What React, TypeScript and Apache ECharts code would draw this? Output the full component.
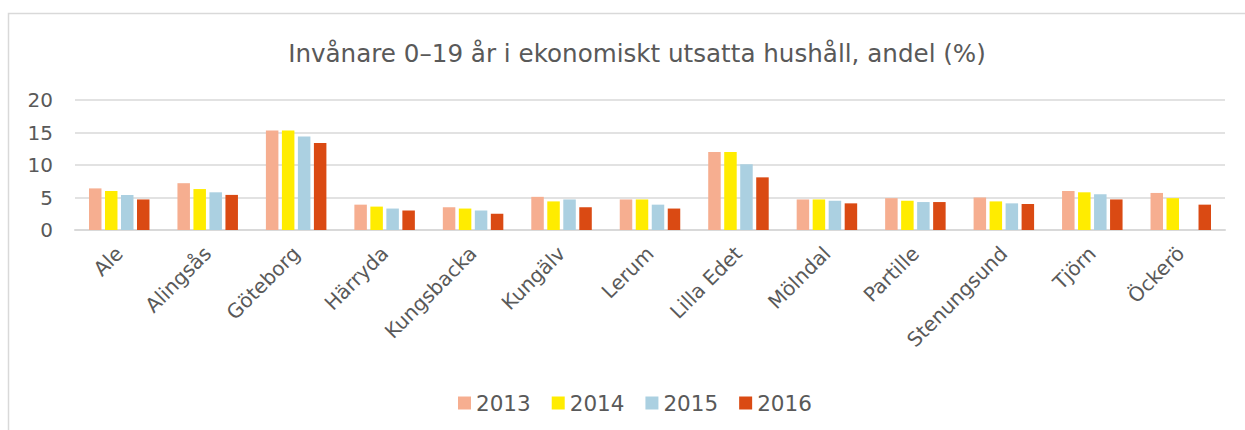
import React, { useEffect, useRef } from "react";
import * as echarts from "echarts";

const categories = ["Ale", "Alingsås", "Göteborg", "Härryda", "Kungsbacka", "Kungälv", "Lerum", "Lilla Edet", "Mölndal", "Partille", "Stenungsund", "Tjörn", "Öckerö"];
const s2013 = [6.4, 7.2, 15.3, 3.9, 3.5, 5.1, 4.7, 12.0, 4.7, 4.9, 5.0, 6.0, 5.7];
const s2014 = [6.0, 6.3, 15.3, 3.6, 3.3, 4.4, 4.7, 12.0, 4.7, 4.5, 4.4, 5.8, 4.9];
const s2015 = [5.4, 5.8, 14.4, 3.3, 3.0, 4.7, 3.9, 10.1, 4.5, 4.3, 4.1, 5.5, null];
const s2016 = [4.7, 5.4, 13.4, 3.0, 2.5, 3.5, 3.3, 8.1, 4.1, 4.3, 4.0, 4.7, 3.9];
const seriesNames = ["2013", "2014", "2015", "2016"];
const colors = ["#F6AE90", "#FFEC00", "#ABD0E1", "#DA4A13"];
const yTicks = { min: 0, max: 20, interval: 5 };
const title = "Invånare 0–19 år i ekonomiskt utsatta hushåll, andel (%)";

const FONT = "DejaVu Sans";

export default function App() {
  const ref = useRef<HTMLDivElement>(null);
  useEffect(() => {
    document.body.style.margin = "0";
    const chart = echarts.init(ref.current!, null, { renderer: "svg" });
    const data = [s2013, s2014, s2015, s2016];
    chart.setOption({
      animation: false,
      backgroundColor: "#ffffff",
      graphic: [
        {
          type: "rect",
          shape: { x: 8.5, y: 13.5, width: 1400, height: 600 },
          style: { fill: "none", stroke: "#d9d9d9", lineWidth: 1.5 },
          silent: true,
        },
      ],
      title: {
        text: title,
        left: 632,
        top: 36,
        textAlign: "center",
        textStyle: { fontFamily: FONT, fontSize: 24.6, fontWeight: "normal", color: "#595959" },
      },
      legend: {
        data: seriesNames,
        left: 458,
        top: 392,
        padding: 0,
        itemWidth: 13,
        itemHeight: 13,
        itemGap: 21,
        icon: "rect",
        textStyle: { fontFamily: FONT, fontSize: 21.5, color: "#595959" },
      },
      grid: { left: 75, right: 20, top: 100, bottom: 200 },
      xAxis: {
        type: "category",
        data: categories,
        axisLine: { lineStyle: { color: "#d9d9d9", width: 2 } },
        axisTick: { show: false },
        axisLabel: {
          rotate: 45,
          interval: 0,
          margin: 20,
          fontFamily: FONT,
          fontSize: 20,
          color: "#595959",
        },
      },
      yAxis: {
        type: "value",
        min: yTicks.min,
        max: yTicks.max,
        interval: yTicks.interval,
        axisLine: { show: false },
        axisTick: { show: false },
        splitLine: { lineStyle: { color: "#d9d9d9", width: 1.5 } },
        axisLabel: { fontFamily: FONT, fontSize: 20, color: "#595959", margin: 22 },
      },
      series: seriesNames.map((n, i) => ({
        name: n,
        type: "bar",
        data: data[i],
        barWidth: 12.5,
        barGap: "28%",
        itemStyle: { color: colors[i] },
      })),
    });
    return () => chart.dispose();
  }, []);
  return <div ref={ref} style={{ position: "absolute", left: 0, top: 0, width: 1245, height: 430 }} />;
}
